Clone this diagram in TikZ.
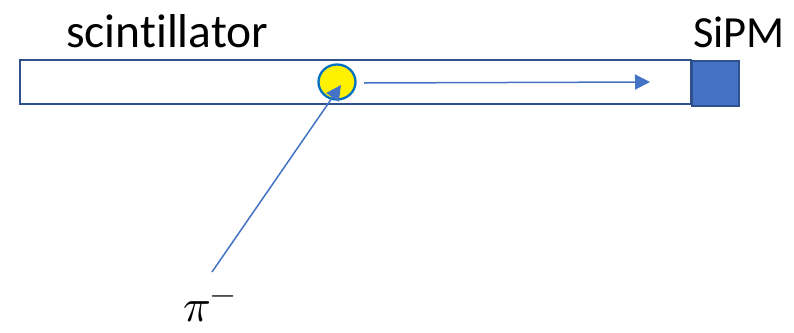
\documentclass[tikz,border=0pt]{standalone}
\usepackage{fontspec}
\usepackage{unicode-math}
\setmainfont[Ligatures=NoCommon]{Carlito}
\setmathfont{Latin Modern Math}
\usetikzlibrary{arrows.meta,shapes.geometric}
\definecolor{edgeblue}{HTML}{2F528F}
\definecolor{accblue}{HTML}{4472C4}
\definecolor{ringblue}{HTML}{0070C0}
\tikzset{
  barbox/.style={draw=edgeblue, line width=2.5pt, fill=white},
  sipmbox/.style={draw=edgeblue, line width=2pt, fill=accblue},
  ray/.style={draw=accblue, line width=1.5pt, -{Triangle[length=15pt,width=15pt]}},
  lbl/.style={inner sep=0pt, anchor=base west},
}
\begin{document}
\begin{tikzpicture}[x=1pt,y=-1pt]
\useasboundingbox (0,0) rectangle (794,332);
\path[barbox] (20,60) rectangle (691,104);
\node[sipmbox, minimum width=47pt, minimum height=45pt, inner sep=0pt, anchor=north west] (sipm) at (691,60) {};
\node[draw=ringblue, line width=2.3pt, fill=yellow, ellipse, minimum width=37pt, minimum height=35pt, inner sep=0pt] (hit) at (337,82) {};
\node[lbl, font=\fontsize{47.5}{54}\selectfont] (scint) at (66,47) {scintillator};
\node[lbl, font=\fontsize{44.5}{52}\selectfont] (sipmlbl) at (693,47) {SiPM};
\node[lbl, font=\fontsize{46}{52}\selectfont] (pion) at (183,321) {$\pi^-$};
\coordinate (pstart) at (212,272);
\coordinate (ptip) at (341,85);
\coordinate (hstart) at (364,83);
\coordinate (htip) at (650,82);
\draw[ray] (pstart) -- (ptip);
\draw[ray] (hstart) -- (htip);
\end{tikzpicture}
\end{document}
